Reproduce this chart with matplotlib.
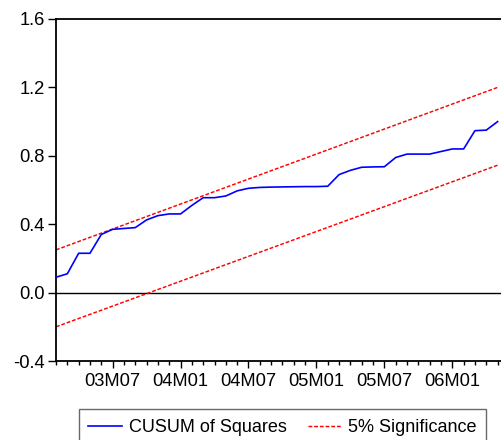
import pandas as pd
import matplotlib
matplotlib.use("Agg")
import matplotlib.pyplot as plt
from matplotlib.ticker import FixedLocator, FormatStrFormatter

# monthly sample 2003M02 .. 2006M05
months = pd.period_range("2003-02", "2006-05", freq="M")

cusum_sq = [0.09, 0.11, 0.23, 0.23, 0.34, 0.37, 0.375, 0.38, 0.425, 0.45,
            0.46, 0.46, 0.51, 0.555, 0.555, 0.565, 0.595, 0.61, 0.615, 0.617,
            0.618, 0.619, 0.62, 0.62, 0.622, 0.69, 0.715, 0.733, 0.735, 0.736,
            0.79, 0.81, 0.81, 0.81, 0.825, 0.84, 0.84, 0.947, 0.95, 1.0]

# 5% bounds at first and last observation
bound_idx = [0, 39]
upper = [0.25, 1.2]
lower = [-0.2, 0.745]

major_labels = ["03M07", "04M01", "04M07", "05M01", "05M07", "06M01"]

plt.rcParams['font.family'] = ['Liberation Sans', 'DejaVu Sans']
fs = 13.2

fig = plt.figure(figsize=(5.01, 4.40), dpi=100)
ax = fig.add_axes([56/501, 1-361/440, 1-56/501, (361-19)/440])

x = list(range(len(months)))
lab = [f"{p.year % 100:02d}M{p.month:02d}" for p in months]

ax.axhline(0, color='black', lw=1.0, zorder=1)
l1, = ax.plot(x, cusum_sq, color='#0000FF', lw=1.2, label='CUSUM of Squares', zorder=3)
l2, = ax.plot(bound_idx, upper, color='#FF0000', lw=1.05, dashes=(2.6, 1.3),
              label='5% Significance', zorder=2)
ax.plot(bound_idx, lower, color='#FF0000', lw=1.05, dashes=(2.6, 1.3), zorder=2)

ax.set_xlim(0, 39.3)
ax.set_ylim(-0.4, 1.6)
ax.set_yticks([-0.4, 0.0, 0.4, 0.8, 1.2, 1.6])
ax.yaxis.set_major_formatter(FormatStrFormatter('%.1f'))

maj = [lab.index(s) for s in major_labels]
ax.set_xticks(maj)
ax.set_xticklabels(major_labels)
ax.xaxis.set_minor_locator(FixedLocator(x))

ax.tick_params(axis='y', direction='out', length=5.5, width=1.0, pad=2.5,
               labelsize=fs, right=False)
ax.tick_params(axis='x', which='major', direction='out', length=5, width=1.0,
               pad=3.5, labelsize=fs, top=False)
ax.tick_params(axis='x', which='minor', direction='out', length=3.2, width=1.0, top=False)

for s in ['left', 'top', 'bottom']:
    ax.spines[s].set_linewidth(1.3)
    ax.spines[s].set_color('black')
ax.spines['right'].set_visible(False)

leg = fig.legend(handles=[l1, l2], loc='upper center', ncol=2,
                 bbox_to_anchor=(282.5/501, 1-409/440), fontsize=13.0,
                 handlelength=1.83, handletextpad=0.41, columnspacing=1.15,
                 borderpad=0.55, borderaxespad=0, fancybox=False, frameon=True)
leg.get_frame().set_edgecolor('#444444')
leg.get_frame().set_linewidth(1.0)

fig.savefig('out.png', dpi=100)
